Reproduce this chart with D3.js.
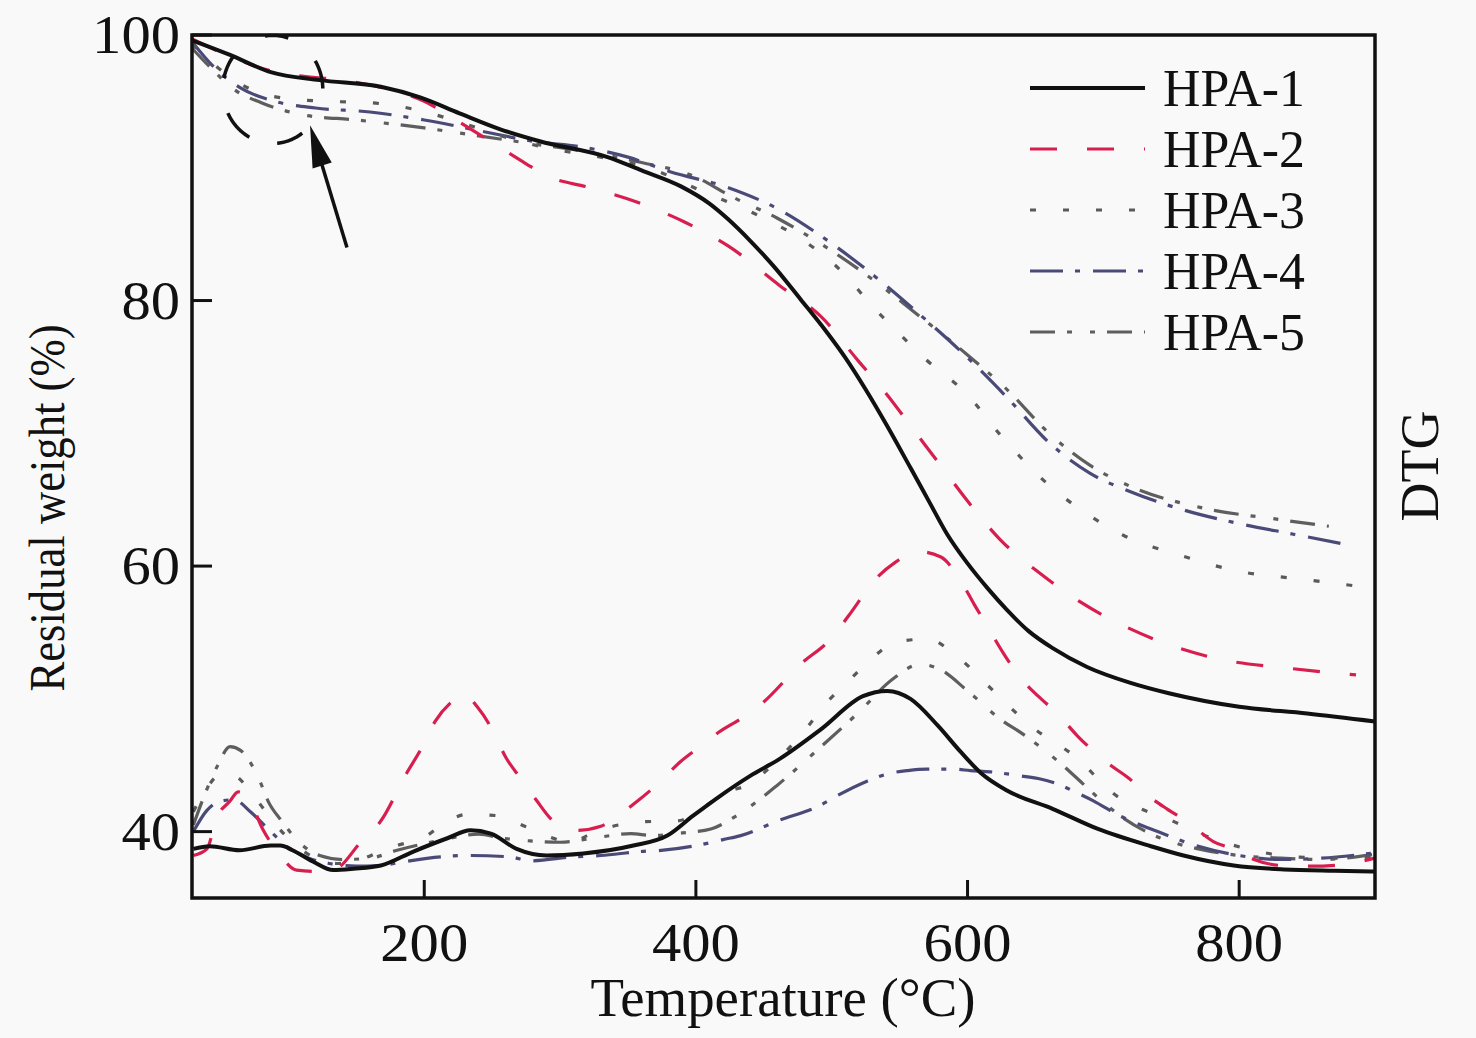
<!DOCTYPE html>
<html><head><meta charset="utf-8">
<script src="https://cdn.jsdelivr.net/npm/d3@7"></script>
<style>body{margin:0;background:#f9f9f9}svg{display:block}</style>
</head><body>
<svg id="chart" width="1476" height="1038"></svg>
<script>
// ---------- data ----------
const seriesNames = ["HPA-1","HPA-2","HPA-3","HPA-4","HPA-5"];
const xTicks = [200,400,600,800];
const yTicks = [40,60,80,100];

// TG curves: [temperature °C, residual weight %]
const tg1 = [[29,99.6],[57,98.5],[87,97.2],[123,96.6],[168,96.1],[197,95.3],[226,94.1],[256,92.9],[285,92.0],[335,90.8],[360,89.8],[389,88.6],[410,87.3],[424,86.1],[440,84.5],[458,82.5],[477,80.1],[495,77.8],[510,75.7],[525,73.3],[540,70.7],[558,67.4],[572,64.8],[585,62.4],[600,60.2],[615,58.3],[629,56.7],[645,55.1],[663,53.8],[688,52.4],[720,51.2],[749,50.4],[800,49.4],[850,48.9],[900,48.3]];
const tg2 = [[29,99.7],[57,98.4],[87,97.3],[110,96.9],[140,96.6],[170,96.0],[200,95.0],[225,93.5],[250,91.9],[275,90.3],[290,89.4],[322,88.5],[357,87.4],[392,85.9],[424,84.1],[462,81.1],[492,78.8],[520,75.4],[540,73.0],[560,70.3],[580,67.6],[600,64.9],[624,62.0],[654,59.4],[683,57.3],[713,55.6],[745,54.2],[785,53.0],[837,52.3],[875,51.9],[886,51.8]];
const tg3 = [[29,99.3],[45,97.8],[60,96.6],[80,95.6],[100,95.2],[130,95.0],[160,94.9],[197,94.3],[230,93.3],[260,92.3],[290,91.5],[330,90.8],[365,90.0],[403,88.3],[448,86.3],[478,84.6],[512,81.7],[527,79.9],[542,78.3],[570,75.5],[600,72.9],[624,69.9],[661,66.0],[690,63.8],[715,62.3],[757,60.8],[800,59.6],[847,59.0],[886,58.5]];
const tg4 = [[29,99.5],[45,97.6],[65,96.0],[90,95.0],[120,94.5],[160,94.2],[200,93.6],[240,92.8],[280,92.0],[320,91.5],[350,90.8],[381,89.7],[424,88.5],[464,86.7],[493,84.8],[532,81.8],[562,79.2],[600,75.7],[630,72.6],[660,69.3],[690,67.0],[720,65.6],[760,64.2],[800,63.2],[840,62.4],[875,61.7]];
const tg5 = [[29,99.0],[45,97.3],[60,95.9],[80,94.9],[110,94.0],[150,93.6],[200,93.0],[240,92.4],[280,91.8],[320,91.2],[360,90.4],[400,89.3],[425,87.9],[460,86.2],[490,84.4],[530,81.6],[560,79.2],[600,75.9],[630,73.2],[660,70.0],[690,67.6],[720,66.0],[772,64.4],[830,63.5],[866,63.0]];

// DTG curves (arbitrary units, drawn on the hidden right axis)
const dtg1 = [[30,38.7],[42,38.9],[64,38.6],[87,38.95],[94,38.95],[103,38.6],[118,37.75],[133,37.1],[148,37.2],[168,37.45],[192,38.5],[217,39.5],[234,40.1],[249,39.85],[268,38.7],[290,38.2],[317,38.35],[354,38.95],[379,39.7],[398,41.2],[418,42.7],[440,44.2],[462,45.5],[492,47.7],[523,50.2],[541,50.6],[558,50.0],[578,48.0],[595,46.0],[610,44.4],[629,43.1],[663,41.7],[696,40.2],[735,38.9],[759,38.2],[796,37.45],[833,37.15],[870,37.05],[900,37.0]];
const dtg2 = [[30,38.2],[40,38.7],[47,41.0],[57,42.3],[63,43.0],[70,42.6],[81,40.2],[94,38.2],[106,37.1],[120,37.0],[133,37.1],[154,39.3],[168,40.8],[187,44.4],[197,46.1],[208,48.3],[221,49.85],[229,50.4],[239,49.4],[250,47.7],[260,45.6],[271,44.0],[283,42.3],[295,40.8],[313,40.1],[330,40.4],[340,41.0],[357,42.3],[372,43.6],[389,45.3],[403,46.4],[417,47.5],[433,48.5],[448,49.6],[477,52.6],[501,54.7],[512,56.2],[534,59.2],[547,60.3],[563,61.1],[580,60.7],[595,58.9],[605,57.1],[615,55.4],[626,53.5],[638,51.7],[652,50.2],[666,48.9],[681,47.2],[704,45.1],[719,44.0],[733,42.7],[747,41.7],[762,40.75],[781,39.25],[795,38.7],[806,38.1],[831,37.45],[853,37.4],[875,37.5],[900,38.0]];
const dtg3 = [[30,41.5],[40,43.3],[50,44.3],[60,44.2],[75,42.6],[90,40.6],[105,39.0],[120,38.0],[135,37.6],[150,37.8],[170,38.6],[180,38.95],[202,39.7],[212,40.45],[232,41.3],[254,41.2],[274,40.4],[295,39.5],[307,39.1],[320,39.7],[339,40.4],[363,40.75],[386,40.8],[408,42.0],[423,43.0],[438,43.5],[460,45.4],[480,47.6],[497,49.8],[512,51.3],[529,53.0],[548,54.3],[571,54.5],[590,53.4],[615,51.0],[646,48.0],[681,45.5],[707,42.9],[752,40.75],[780,39.5],[810,38.6],[840,38.1],[870,38.0],[900,38.1]];
const dtg4 = [[30,40.0],[40,41.6],[50,42.3],[60,42.4],[72,41.5],[85,40.2],[100,38.8],[115,38.0],[130,37.6],[150,37.4],[168,37.45],[183,37.7],[212,38.1],[232,38.2],[263,38.1],[278,37.8],[310,38.1],[330,38.2],[359,38.5],[376,38.6],[403,39.0],[420,39.4],[433,39.7],[460,40.8],[492,42.0],[504,42.7],[526,43.8],[543,44.4],[556,44.6],[570,44.7],[590,44.7],[602,44.6],[617,44.5],[639,44.2],[652,44.0],[666,43.6],[681,42.9],[693,42.3],[710,41.3],[740,40.0],[770,38.9],[800,38.2],[830,37.9],[860,38.0],[900,38.4]];
const dtg5 = [[30,40.5],[40,43.2],[48,45.0],[57,46.4],[65,46.1],[72,45.2],[79,43.8],[85,42.3],[95,40.8],[110,39.0],[123,38.2],[140,37.9],[160,38.0],[180,38.6],[210,39.3],[240,39.8],[258,39.5],[278,39.3],[300,39.2],[330,39.6],[352,39.85],[368,39.7],[390,39.9],[411,40.2],[430,41.2],[460,43.5],[490,46.2],[520,49.0],[545,51.5],[565,52.6],[580,52.2],[600,50.6],[625,48.4],[640,47.4],[670,45.0],[685,43.6],[700,42.2],[715,41.0],[740,39.6],[770,38.7],[800,38.2],[830,38.0],[860,37.9],[900,38.3]];

// annotation (data units): dashed ellipse around the first mass-loss step and arrow
const ellipseCenter = [88.5, 95.9];
const ellipseRadii = [36.8, 4.07];
const ellipseDashes = [[54,85],[118,154],[192,217],[261,288],[328,359]];
const arrowFrom = [143.1, 84.0];
const arrowTo = [115.9, 93.2];

// ---------- styles ----------
const colors = ["#111111","#d81e4e","#5a5a5a","#4a4a78","#5e5e5e"];
const widths = [4,3.2,3.2,3.2,3.2];
const dashes = [null,"27,30","6,27","33,12,5,13","25,12,5,18,5,12"];

const svg = d3.select("#chart");
const L=192, R=1375, T=35, B=898;
const x = d3.scaleLinear().domain([29,900]).range([L,R]);
const y = d3.scaleLinear().domain([35,100]).range([B,T]);
const yR = d3.scaleLinear().domain([35,100]).range([B,T]);

svg.append("defs").append("clipPath").attr("id","clip")
  .append("rect").attr("x",L).attr("y",T).attr("width",R-L).attr("height",B-T);

const font = "'Liberation Serif','Times New Roman',serif";

const g = svg.append("g").attr("clip-path","url(#clip)");
const lineTG = d3.line().x(d=>x(d[0])).y(d=>y(d[1])).curve(d3.curveMonotoneX);
const lineDTG = d3.line().x(d=>x(d[0])).y(d=>yR(d[1])).curve(d3.curveMonotoneX);

const tgs = [tg1,tg2,tg3,tg4,tg5];
const dtgs = [dtg1,dtg2,dtg3,dtg4,dtg5];
const order = [4,3,2,1,0];
order.forEach(i=>{
  g.append("path").attr("d",lineDTG(dtgs[i])).attr("fill","none")
    .attr("stroke",colors[i]).attr("stroke-width",widths[i])
    .attr("stroke-dasharray",dashes[i]).attr("stroke-linecap","butt");
  g.append("path").attr("d",lineTG(tgs[i])).attr("fill","none")
    .attr("stroke",colors[i]).attr("stroke-width",widths[i])
    .attr("stroke-dasharray",dashes[i]).attr("stroke-linecap","butt");
});

// ellipse dashes
const cx = x(ellipseCenter[0]), cy = y(ellipseCenter[1]);
const rx = x(ellipseCenter[0]+ellipseRadii[0]) - cx;
const ry = cy - y(ellipseCenter[1]+ellipseRadii[1]);
ellipseDashes.forEach(([a0,a1])=>{
  const pts = d3.range(a0,a1+0.5,1).map(a=>{
    const t=a*Math.PI/180; return [cx+rx*Math.cos(t), cy+ry*Math.sin(t)];
  });
  svg.append("path").attr("d",d3.line()(pts)).attr("fill","none")
    .attr("stroke","#111").attr("stroke-width",3.5);
});

// arrow
{
  const x0=x(arrowFrom[0]), y0=y(arrowFrom[1]), x1=x(arrowTo[0]), y1=y(arrowTo[1]);
  const dx=x1-x0, dy=y1-y0, len=Math.hypot(dx,dy), ux=dx/len, uy=dy/len;
  const hl=42, hw=10;
  const bx=x1-ux*hl, by=y1-uy*hl;
  svg.append("line").attr("x1",x0).attr("y1",y0).attr("x2",bx+ux*4).attr("y2",by+uy*4)
    .attr("stroke","#111").attr("stroke-width",3.5);
  svg.append("path").attr("d",`M${x1},${y1}L${bx-uy*hw},${by+ux*hw}L${bx+uy*hw},${by-ux*hw}Z`)
    .attr("fill","#111");
}

// axes (inward ticks, boxed frame)
const ax = svg.append("g");
ax.selectAll("line.xt").data(xTicks).join("line")
  .attr("x1",d=>x(d)).attr("x2",d=>x(d)).attr("y1",B).attr("y2",B-18)
  .attr("stroke","#111").attr("stroke-width",3);
ax.selectAll("line.yt").data(yTicks).join("line")
  .attr("y1",d=>y(d)).attr("y2",d=>y(d)).attr("x1",L).attr("x2",L+20)
  .attr("stroke","#111").attr("stroke-width",3);
ax.append("rect").attr("x",L).attr("y",T).attr("width",R-L).attr("height",B-T)
  .attr("fill","none").attr("stroke","#111").attr("stroke-width",3.5);

ax.selectAll("text.xl").data(xTicks).join("text")
  .attr("x",d=>x(d)).attr("y",961).attr("text-anchor","middle")
  .attr("font-family",font).attr("font-size",54).attr("fill","#111")
  .attr("textLength",d=>String(d).length*29.3).attr("lengthAdjust","spacingAndGlyphs").text(d=>d);
ax.selectAll("text.yl").data(yTicks).join("text")
  .attr("x",180).attr("y",d=>y(d)+18).attr("text-anchor","end")
  .attr("font-family",font).attr("font-size",54).attr("fill","#111")
  .attr("textLength",d=>String(d).length*29.3).attr("lengthAdjust","spacingAndGlyphs").text(d=>d);

svg.append("text").attr("x",783).attr("y",1016).attr("text-anchor","middle")
  .attr("font-family",font).attr("font-size",54).attr("fill","#111")
  .attr("textLength",385).attr("lengthAdjust","spacingAndGlyphs").text("Temperature (°C)");
svg.append("text").attr("transform","translate(64,508) rotate(-90)").attr("text-anchor","middle")
  .attr("font-family",font).attr("font-size",50).attr("fill","#111")
  .attr("textLength",367).attr("lengthAdjust","spacingAndGlyphs").text("Residual weight (%)");
svg.append("text").attr("transform","translate(1438,466) rotate(-90)").attr("text-anchor","middle")
  .attr("font-family",font).attr("font-size",54).attr("fill","#111").text("DTG");

// legend
const ly = [88,149,210,271,332];
seriesNames.forEach((n,i)=>{
  svg.append("line").attr("x1",1030).attr("x2",1145).attr("y1",ly[i]).attr("y2",ly[i])
    .attr("stroke",colors[i]).attr("stroke-width",widths[i]).attr("stroke-dasharray",dashes[i]);
  svg.append("text").attr("x",1163).attr("y",ly[i]+18).attr("font-family",font)
    .attr("font-size",52).attr("fill","#111")
    .attr("textLength",142).attr("lengthAdjust","spacingAndGlyphs").text(n);
});
</script>
</body></html>
